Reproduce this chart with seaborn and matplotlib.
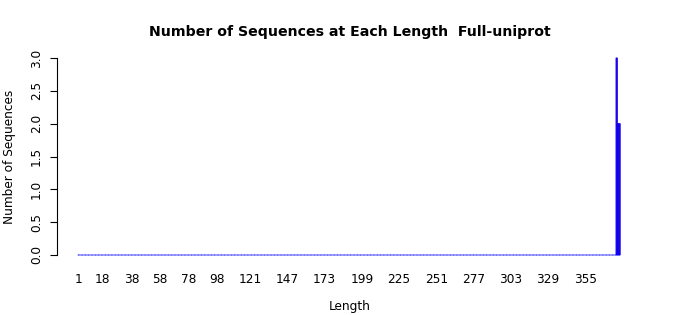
import numpy as np
import pandas as pd
import matplotlib
matplotlib.use("Agg")
import matplotlib.pyplot as plt
import seaborn as sns

# ---- data ----
lengths = list(range(1, 380))                 # every length category 1..379
nonzero_lengths = [377, 378, 379]             # only lengths with sequences
nonzero_counts = [3, 2, 2]
tick_values = [1, 18, 38, 58, 78, 98, 121, 147, 173, 199, 225, 251, 277, 303, 329, 355]
y_ticks = [0.0, 0.5, 1.0, 1.5, 2.0, 2.5, 3.0]
title = "Number of Sequences at Each Length  Full-uniprot"

counts = [0] * len(lengths)
for l, c in zip(nonzero_lengths, nonzero_counts):
    counts[lengths.index(l)] = c

df = pd.DataFrame({"Length": [str(l) for l in lengths], "Count": counts})

FILL = "#ff0000"
EDGE = "#0000ff"

sns.set_style("white")
plt.rcParams["font.family"] = ["DejaVu Sans"]
for k in ["text.color", "axes.labelcolor", "xtick.color", "ytick.color"]:
    plt.rcParams[k] = "black"

fig = plt.figure(figsize=(7.0, 3.15), dpi=100)
L, R, B, T = 57, 643, 255, 58
ax = fig.add_axes([L / 700, (315 - B) / 315, (R - L) / 700, (B - T) / 315])

sns.barplot(data=df, x="Length", y="Count", color=FILL,
            order=[str(l) for l in lengths], width=1 / 1.2, edgecolor=EDGE,
            linewidth=0.75, ax=ax, saturation=1)
for p in ax.patches:
    p.set_clip_on(False)
    p.set_snap(False)

px_per = 1.4316
x0 = 78.4
ax.set_xlim(-(x0 - L) / px_per, (R - x0) / px_per)
ax.set_ylim(0, 3)

ax.set_xticks([lengths.index(v) for v in tick_values])
ax.set_xticklabels([str(v) for v in tick_values], fontsize=8.7)
ax.set_yticks(y_ticks)
ax.set_yticklabels([f"{v:.1f}" for v in y_ticks], fontsize=8.7, rotation=90, va="center")

ax.tick_params(axis="x", length=0, pad=13)
ax.tick_params(axis="y", length=5, width=0.8, pad=5, direction="out", left=True)

for s in ["top", "right", "bottom"]:
    ax.spines[s].set_visible(False)
ax.spines["left"].set_linewidth(0.8)
ax.spines["left"].set_color("black")

ax.set_xlabel("Length", fontsize=8.7, labelpad=10)
ax.set_ylabel("Number of Sequences", fontsize=8.7, labelpad=10)
ax.set_title(title, fontsize=10.2, fontweight="bold", pad=16)

fig.savefig("out.png", dpi=100)
